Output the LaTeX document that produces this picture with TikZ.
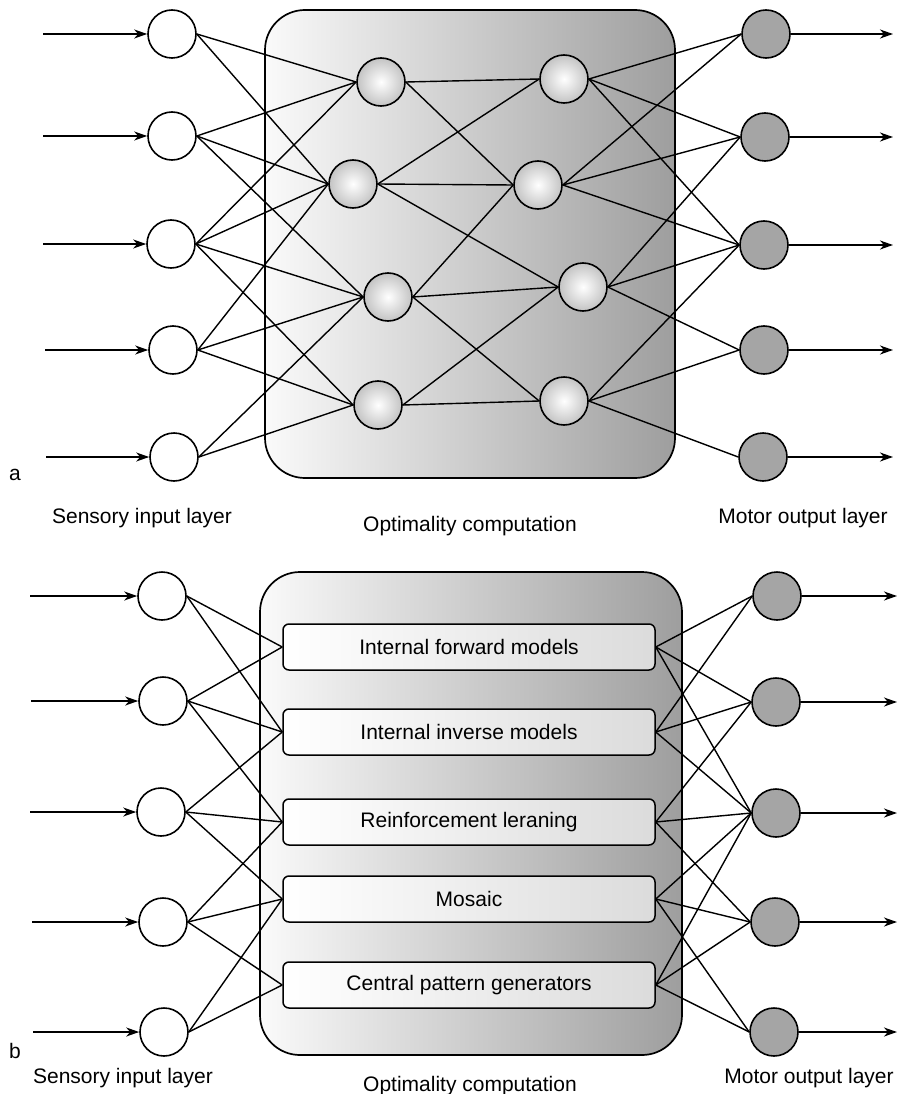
\documentclass[tikz,border=0pt]{standalone}
\usepackage{fontspec}
\setmainfont{Liberation Sans}
\usetikzlibrary{arrows.meta}
\definecolor{outfill}{RGB}{165,165,165}
\definecolor{boxright}{RGB}{158,158,158}
\definecolor{boxleft}{RGB}{250,250,250}
\definecolor{hidedge}{RGB}{195,195,195}
\begin{document}
\begin{tikzpicture}[x=1pt,y=-1pt,
  inp/.style={circle,draw,line width=1.6pt,fill=white,minimum size=48pt,inner sep=0pt},
  hid/.style={circle,draw,line width=1.6pt,inner color=white,outer color=hidedge,minimum size=48pt,inner sep=0pt},
  outp/.style={circle,draw,line width=1.6pt,fill=outfill,minimum size=48pt,inner sep=0pt},
  link/.style={line width=1.4pt},
  arr/.style={line width=1.6pt,-{Stealth[length=13pt,width=9pt,inset=4pt]}},
  bigbox/.style={draw,line width=1.7pt,rounded corners=40pt,left color=boxleft,right color=boxright},
  modbox/.style={draw,line width=1.5pt,rounded corners=6pt,left color=white,right color=gray!28,minimum width=372pt,minimum height=46pt,inner sep=0pt,font=\fontsize{21}{25}\selectfont},
  lab/.style={anchor=base,inner sep=0pt,font=\fontsize{21}{25}\selectfont}
]
\useasboundingbox (0,0) rectangle (899,1094);

% ================= panel a =================
\path[bigbox] (265,10) rectangle (675,478);

\node[inp] (ai1) at (172,34) {};
\node[inp] (ai2) at (172,136) {};
\node[inp] (ai3) at (171,244) {};
\node[inp] (ai4) at (173,350) {};
\node[inp] (ai5) at (174,457) {};

\node[hid] (ah1) at (381,82) {};
\node[hid] (ah2) at (353,184) {};
\node[hid] (ah3) at (388,297) {};
\node[hid] (ah4) at (378,405) {};

\node[hid] (ag1) at (564,79) {};
\node[hid] (ag2) at (538,185) {};
\node[hid] (ag3) at (583,287) {};
\node[hid] (ag4) at (564,401) {};

\node[outp] (ao1) at (766,34) {};
\node[outp] (ao2) at (765,137) {};
\node[outp] (ao3) at (764,245) {};
\node[outp] (ao4) at (764,350) {};
\node[outp] (ao5) at (763,457) {};

\foreach \s/\t in {1/1,1/2,2/1,2/2,2/3,3/1,3/2,3/3,3/4,4/2,4/3,4/4,5/3,5/4}
  \draw[link] (ai\s.east) -- (ah\t.west);
\foreach \s/\t in {1/1,1/2,2/1,2/2,2/3,3/2,3/3,3/4,4/3,4/4}
  \draw[link] (ah\s.east) -- (ag\t.west);
\foreach \s/\t in {1/1,1/2,1/3,2/1,2/2,2/3,3/2,3/3,3/4,4/3,4/4,4/5}
  \draw[link] (ag\s.east) -- (ao\t.west);

\coordinate (aa1) at (43,34);
\coordinate (aa2) at (43,136);
\coordinate (aa3) at (43,244);
\coordinate (aa4) at (45,350);
\coordinate (aa5) at (46,457);
\coordinate (az1) at (893,34);
\coordinate (az2) at (893,137);
\coordinate (az3) at (893,245);
\coordinate (az4) at (893,350);
\coordinate (az5) at (893,457);
\foreach \k in {1,...,5}{
  \draw[arr] (aa\k) -- (ai\k);
  \draw[arr] (ao\k) -- (az\k);
}

\node[lab] (alab) at (15,480) {a};
\node[lab] (asens) at (142,523) {Sensory input layer};
\node[lab] (aopt) at (470,531) {Optimality computation};
\node[lab] (amot) at (803,523) {Motor output layer};

% ================= panel b =================
\path[bigbox] (260,572) rectangle (682,1055);

\node[modbox] (bm1) at (469,647) {Internal forward models};
\node[modbox] (bm2) at (469,732) {Internal inverse models};
\node[modbox] (bm3) at (469,822) {Reinforcement leraning};
\node[modbox] (bm4) at (469,899) {Mosaic};
\node[modbox] (bm5) at (469,985) {Central pattern generators};

\node[inp] (bi1) at (162,596) {};
\node[inp] (bi2) at (163,701) {};
\node[inp] (bi3) at (161,812) {};
\node[inp] (bi4) at (163,922) {};
\node[inp] (bi5) at (164,1032) {};

\node[outp] (bo1) at (777,596) {};
\node[outp] (bo2) at (776,702) {};
\node[outp] (bo3) at (776,813) {};
\node[outp] (bo4) at (775,922) {};
\node[outp] (bo5) at (774,1032) {};

\foreach \s/\t in {1/1,1/2,2/1,2/2,2/3,3/2,3/3,3/4,4/3,4/4,4/5,5/4,5/5}
  \draw[link] (bi\s.east) -- (bm\t.west);
\foreach \s/\t in {1/1,1/2,1/3,2/1,2/2,2/3,3/2,3/3,3/4,4/3,4/4,4/5,5/3,5/4,5/5}
  \draw[link] (bm\s.east) -- (bo\t.west);

\coordinate (ba1) at (30,596);
\coordinate (ba2) at (31,701);
\coordinate (ba3) at (30,812);
\coordinate (ba4) at (32,922);
\coordinate (ba5) at (33,1032);
\coordinate (bz1) at (897,596);
\coordinate (bz2) at (897,702);
\coordinate (bz3) at (897,813);
\coordinate (bz4) at (897,922);
\coordinate (bz5) at (897,1032);
\foreach \k in {1,...,5}{
  \draw[arr] (ba\k) -- (bi\k);
  \draw[arr] (bo\k) -- (bz\k);
}

\node[lab] (blab) at (15,1058) {b};
\node[lab] (bsens) at (123,1083) {Sensory input layer};
\node[lab] (bopt) at (470,1091) {Optimality computation};
\node[lab] (bmot) at (809,1083) {Motor output layer};
\end{tikzpicture}
\end{document}
